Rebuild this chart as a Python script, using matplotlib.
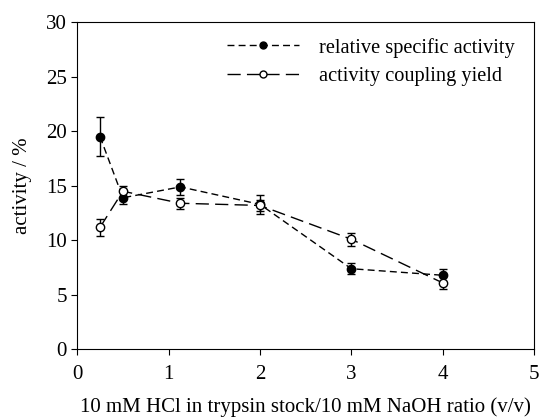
import matplotlib.pyplot as plt
from matplotlib.lines import Line2D

plt.rcParams['font.family'] = ['Liberation Serif', 'DejaVu Serif']

ratio = [0.25, 0.5, 1.13, 2, 3, 4]
rel_activity = [19.5, 13.9, 14.9, 13.3, 7.4, 6.8]
rel_err = [1.8, 0.6, 0.7, 0.9, 0.5, 0.6]
coupling_yield = [11.2, 14.5, 13.4, 13.2, 10.1, 6.1]
yield_err = [0.8, 0.5, 0.5, 0.5, 0.6, 0.6]

short_dash = (0, (5, 3))
long_dash = (0, (9.5, 4.5))

fig = plt.figure(figsize=(5.4, 4.18), dpi=100)
ax = fig.add_axes([0.143, 0.164, 0.846, 0.783])

ax.errorbar(ratio, rel_activity, yerr=rel_err, color='black', marker='o', markersize=6,
            linestyle=short_dash, linewidth=1, capsize=3, elinewidth=1, capthick=1, zorder=3)
ax.errorbar(ratio, coupling_yield, yerr=yield_err, color='black', marker='o', markersize=6,
            markerfacecolor='white', linestyle=long_dash, linewidth=1, capsize=3,
            elinewidth=1, capthick=1, zorder=3)

ax.set_xlim(0, 5)
ax.set_ylim(0, 30)
ax.set_xticks([0, 1, 2, 3, 4, 5])
ax.set_yticks([0, 5, 10, 15, 20, 25, 30])
ax.tick_params(direction='out', labelsize=15, length=4)
ax.tick_params(axis='x', pad=7)
ax.set_xlabel('10 mM HCl in trypsin stock/10 mM NaOH ratio (v/v)', fontsize=15, labelpad=10)
ax.set_ylabel('activity / %', fontsize=15, labelpad=10)

# legend handles without error bars
handles = [
    Line2D([], [], color='black', linestyle=short_dash, linewidth=1, marker='o', markersize=5),
    Line2D([], [], color='black', linestyle=long_dash, linewidth=1, marker='o', markersize=5,
           markerfacecolor='white'),
]
labels = ['relative specific activity', 'activity coupling yield']
ax.legend(handles, labels, loc='upper right', bbox_to_anchor=(0.985, 0.99), frameon=False,
          fontsize=14.7, handlelength=3.5, handletextpad=1.0, labelspacing=0.45,
          borderaxespad=0.2)

fig.savefig('out.png', dpi=100)
